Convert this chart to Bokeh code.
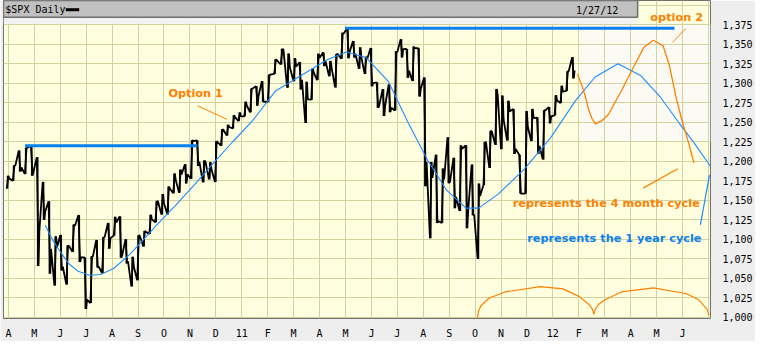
import pandas as pd
from bokeh.plotting import figure
from bokeh.models import Range1d, FixedTicker, NumeralTickFormatter, BoxAnnotation, Label
from bokeh.embed import file_html
from bokeh.resources import INLINE

# ---------------- data ----------------
month_labels = ["A", "M", "J", "J", "A", "S", "O", "N", "D", "11", "F", "M", "A", "M",
                "J", "J", "A", "S", "O", "N", "D", "12", "F", "M", "A", "M", "J"]
price_ticks = [1000, 1025, 1050, 1075, 1100, 1125, 1150, 1175, 1200, 1225, 1250,
               1275, 1300, 1325, 1350, 1375]

week_end = ["2010-04-02", "2010-04-09", "2010-04-16", "2010-04-23", "2010-04-30",
            "2010-05-07", "2010-05-14", "2010-05-21", "2010-05-28", "2010-06-04",
            "2010-06-11", "2010-06-18", "2010-06-25", "2010-07-02", "2010-07-09",
            "2010-07-16", "2010-07-23", "2010-07-30", "2010-08-06", "2010-08-13",
            "2010-08-20", "2010-08-27", "2010-09-03", "2010-09-10", "2010-09-17",
            "2010-09-24", "2010-10-01", "2010-10-08", "2010-10-15", "2010-10-22",
            "2010-10-29", "2010-11-05", "2010-11-12", "2010-11-19", "2010-11-26",
            "2010-12-03", "2010-12-10", "2010-12-17", "2010-12-24", "2010-12-31",
            "2011-01-07", "2011-01-14", "2011-01-21", "2011-01-28", "2011-02-04",
            "2011-02-11", "2011-02-18", "2011-02-25", "2011-03-04", "2011-03-11",
            "2011-03-18", "2011-03-25", "2011-04-01", "2011-04-08", "2011-04-15",
            "2011-04-22", "2011-04-29", "2011-05-06", "2011-05-13", "2011-05-20",
            "2011-05-27", "2011-06-03", "2011-06-10", "2011-06-17", "2011-06-24",
            "2011-07-01", "2011-07-08", "2011-07-15", "2011-07-22", "2011-07-29",
            "2011-08-05", "2011-08-12", "2011-08-19", "2011-08-26", "2011-09-02",
            "2011-09-09", "2011-09-16", "2011-09-23", "2011-09-30", "2011-10-07",
            "2011-10-14", "2011-10-21", "2011-10-28", "2011-11-04", "2011-11-11",
            "2011-11-18", "2011-11-25", "2011-12-02", "2011-12-09", "2011-12-16",
            "2011-12-23", "2011-12-30", "2012-01-06", "2012-01-13", "2012-01-20",
            "2012-01-27"]
week_high = [1181.4, 1194.7, 1213.9, 1217.3, 1219.8, 1205.1, 1173.6, 1148.7, 1104.0, 1105.7,
             1092.0, 1119.0, 1131.2, 1076.8, 1078.2, 1099.1, 1103.0, 1121.0, 1128.8, 1129.2,
             1100.1, 1077.6, 1105.1, 1110.8, 1131.5, 1148.9, 1158.0, 1167.7, 1184.4, 1189.4,
             1196.1, 1227.1, 1226.8, 1200.9, 1198.9, 1225.6, 1241.0, 1246.7, 1259.0, 1262.6,
             1276.2, 1293.2, 1296.1, 1302.7, 1311.0, 1330.8, 1344.1, 1338.0, 1332.3, 1327.0,
             1302.0, 1319.0, 1337.9, 1339.5, 1328.6, 1337.5, 1364.6, 1370.6, 1354.0, 1346.0,
             1334.0, 1345.2, 1301.0, 1292.5, 1298.6, 1341.0, 1356.5, 1343.9, 1347.0, 1344.8,
             1307.4, 1199.0, 1208.5, 1190.7, 1230.7, 1204.4, 1220.4, 1220.4, 1195.9, 1171.4,
             1224.6, 1239.0, 1292.7, 1284.4, 1277.6, 1267.0, 1208.5, 1264.3, 1267.1, 1256.0,
             1265.4, 1269.4, 1284.6, 1296.8, 1315.5, 1333.5]
week_low = [1165.0, 1175.0, 1186.8, 1183.7, 1181.6, 1065.8, 1125.0, 1055.9, 1040.8, 1060.0,
            1042.2, 1084.0, 1071.0, 1010.9, 1018.4, 1064.0, 1056.9, 1088.0, 1105.0, 1076.6,
            1069.2, 1039.7, 1047.5, 1091.0, 1107.0, 1122.0, 1131.9, 1131.9, 1159.0, 1159.7,
            1171.7, 1177.7, 1194.1, 1173.0, 1176.9, 1173.6, 1220.0, 1232.9, 1242.0, 1251.5,
            1257.6, 1262.7, 1271.3, 1276.3, 1276.0, 1312.0, 1324.0, 1294.3, 1302.6, 1292.0,
            1249.1, 1279.0, 1304.0, 1322.0, 1309.0, 1294.7, 1331.5, 1332.0, 1333.0, 1318.5,
            1311.8, 1296.0, 1268.6, 1258.1, 1262.9, 1265.0, 1333.0, 1307.0, 1303.0, 1282.9,
            1168.1, 1101.5, 1121.1, 1121.0, 1172.0, 1140.0, 1136.2, 1114.2, 1131.0, 1074.8,
            1169.6, 1191.5, 1221.0, 1215.4, 1226.6, 1209.4, 1158.7, 1158.7, 1225.9, 1209.5,
            1202.4, 1248.6, 1258.9, 1274.6, 1290.2, 1306.1]
week_close = [1178.1, 1194.4, 1192.1, 1217.3, 1186.7, 1110.9, 1135.7, 1087.7, 1089.4, 1064.9,
              1091.6, 1117.5, 1076.8, 1022.6, 1078.0, 1064.9, 1102.7, 1101.6, 1121.6, 1079.3,
              1071.7, 1064.6, 1104.5, 1109.6, 1125.6, 1148.7, 1146.2, 1165.2, 1176.2, 1183.1,
              1183.3, 1225.9, 1199.2, 1199.7, 1189.4, 1224.7, 1240.4, 1243.9, 1256.8, 1257.6,
              1271.5, 1293.2, 1283.4, 1276.3, 1310.9, 1329.2, 1343.0, 1319.9, 1321.2, 1304.3,
              1279.2, 1313.8, 1332.4, 1328.2, 1319.7, 1337.4, 1363.6, 1340.2, 1337.8, 1333.3,
              1331.1, 1300.2, 1271.0, 1271.5, 1268.5, 1339.7, 1343.8, 1316.1, 1345.0, 1292.3,
              1199.4, 1178.8, 1123.5, 1176.8, 1174.0, 1154.2, 1216.0, 1136.4, 1131.4, 1155.5,
              1224.6, 1238.3, 1285.1, 1253.2, 1263.9, 1215.7, 1158.7, 1244.3, 1255.2, 1219.7,
              1265.3, 1257.6, 1277.8, 1289.1, 1315.4, 1316.3]

# 1-year cycle curve (blue), x in months since Apr 2010
year_cycle_m = [1.42, 1.69, 1.94, 2.32, 2.69, 3.13, 3.56, 4.07, 4.69, 5.19, 5.68, 6.43, 7.18,
                8.05, 8.68, 9.42, 10.30, 11.29, 12.29, 13.04, 13.79, 14.66, 15.41, 16.16,
                16.90, 17.65, 18.14, 18.89, 19.90, 20.91, 21.88, 22.63, 23.51, 24.38, 25.13,
                25.87, 26.44, 27.07]
year_cycle_v = [1118, 1100, 1087, 1069, 1059, 1054, 1055, 1063, 1081, 1099, 1117, 1143, 1170,
                1203, 1226, 1252, 1290, 1310, 1330, 1340, 1333, 1302, 1250, 1202,
                1163, 1140, 1140, 1158, 1190, 1230, 1278, 1308, 1325, 1310, 1283,
                1249, 1224, 1194]

# option 2 projection (orange)
option2_m = [21.95, 22.14, 22.26, 22.39, 22.52, 22.64, 22.89, 23.14, 23.64, 24.13, 24.51,
             24.88, 25.25, 25.50, 25.75, 26.00, 26.25, 26.44]
option2_v = [1312, 1295, 1282, 1265, 1254, 1248, 1252, 1260, 1290, 1322, 1346,
             1355, 1348, 1322, 1282, 1250, 1222, 1198]

# 4-month cycle arcs at the bottom
arc1_m = [18.09, 18.13, 18.22, 18.53, 19.15, 20.52, 21.39, 22.02, 22.39, 22.52, 22.58]
arc1_v = [998.6, 1008.0, 1014.6, 1024.6, 1032.6, 1039.4, 1036.6, 1026.6, 1016.6, 1011.0, 1004.0]
arc2_m = [22.58, 22.64, 22.76, 23.01, 23.64, 24.88, 26.13, 26.63, 26.94, 27.03]
arc2_v = [1004.0, 1010.6, 1016.5, 1022.6, 1032.6, 1037.8, 1030.6, 1022.6, 1010.6, 1002.6]

# horizontal resistance levels
level1_m, level1_v = [0.64, 7.29], [1219.8, 1219.8]
level2_m, level2_v = [12.98, 25.69], [1370.6, 1370.6]

# ---------------- layout / style ----------------
ORANGE = "#FF8000"
BLUE = "#0A7FF0"
BLUE_THIN = "#1E8CFF"
X0, X1 = -0.19, 27.08
Y0, Y1 = 998.6, 1406.0


def mpos(ts):
    return (ts.year - 2010) * 12 + (ts.month - 4) + (ts.day - 1) / ts.days_in_month


px, py = [], []
seg_x, seg_lo, seg_hi = [], [], []
for d, h, l, c in zip(week_end, week_high, week_low, week_close):
    fri = pd.Timestamp(d)
    tue = fri - pd.Timedelta(days=3)
    wed = fri - pd.Timedelta(days=2)
    thu = fri - pd.Timedelta(days=1)
    first, second = (l, h) if c >= (h + l) / 2 else (h, l)
    px += [mpos(tue), mpos(thu), mpos(fri)]
    py += [first, second, c]
    seg_x.append(mpos(wed))
    seg_lo.append(l)
    seg_hi.append(h)

p = figure(width=755, height=341, x_range=Range1d(X0, X1), y_range=Range1d(Y0, Y1),
           y_axis_location="right", output_backend="svg", toolbar_location=None,
           min_border_left=3, min_border_right=0, min_border_top=0, min_border_bottom=0,
           background_fill_color="#FFFFE0", border_fill_color="#EEEEEE")
p.outline_line_color = "#707070"
p.outline_line_width = 1

p.xgrid.ticker = FixedTicker(ticks=list(range(0, 28)))
p.ygrid.ticker = FixedTicker(ticks=list(range(1000, 1401, 25)))
for g in (p.xgrid, p.ygrid):
    g.grid_line_color = "#D2D2A0"
    g.grid_line_width = 1

p.xaxis.ticker = FixedTicker(ticks=list(range(len(month_labels))))
p.xaxis.major_label_overrides = {i: s for i, s in enumerate(month_labels)}
p.yaxis.ticker = FixedTicker(ticks=price_ticks)
p.yaxis.formatter = NumeralTickFormatter(format="0,0")
for ax in (p.xaxis, p.yaxis):
    ax.axis_line_color = None
    ax.major_tick_line_color = None
    ax.minor_tick_line_color = None
    ax.major_label_text_font = "DejaVu Sans Mono"
    ax.major_label_text_font_size = "10px"
    ax.major_label_text_color = "#000000"
p.xaxis.major_label_standoff = 3
p.yaxis.major_label_standoff = 6

# lighter "future" area
p.add_layout(BoxAnnotation(left=22.03, right=X1, bottom=1225, top=1376,
                           fill_color="#FBFBF3", fill_alpha=1, line_alpha=0, level="image"))

# price
p.segment(seg_x, seg_lo, seg_x, seg_hi, line_color="black", line_width=1.6)
p.line(px, py, line_color="black", line_width=1.8)

# cycles
p.line(year_cycle_m, year_cycle_v, line_color=BLUE_THIN, line_width=1.1)
p.line(option2_m, option2_v, line_color=ORANGE, line_width=1.3)
p.line(arc1_m, arc1_v, line_color=ORANGE, line_width=1.2)
p.line(arc2_m, arc2_v, line_color=ORANGE, line_width=1.2)

# levels
p.line(level1_m, level1_v, line_color=BLUE, line_width=3)
p.line(level2_m, level2_v, line_color=BLUE, line_width=3)

# pointer lines
p.line([7.29, 8.43], [1271.2, 1253.7], line_color=ORANGE, line_width=1)
p.line([25.61, 26.13], [1352.3, 1370.3], line_color=ORANGE, line_width=1)
p.line([24.48, 25.82], [1165.6, 1190.5], line_color=ORANGE, line_width=1.2)
p.line([26.69, 27.04], [1118.5, 1182.4], line_color=BLUE_THIN, line_width=1.2)

# header bar
p.add_layout(BoxAnnotation(left=X0, right=24.27, bottom=1376.3, top=1384.5,
                           fill_color="#F2F2F2", fill_alpha=1, line_alpha=0))
p.add_layout(BoxAnnotation(left=X0, right=24.27, bottom=1384.5, top=Y1,
                           fill_color="#C0C0C0", fill_alpha=1,
                           line_color="#6E6E6E", line_alpha=1, line_width=1.5))
p.add_layout(Label(x=-0.12, y=1394.5, text="$SPX Daily", text_font="DejaVu Sans Mono",
                   text_font_size="10px", text_color="black", text_baseline="middle"))
p.line([2.21, 2.73], [1394.2, 1394.2], line_color="black", line_width=3, level="overlay")
p.add_layout(Label(x=23.52, y=1393.5, text="1/27/12", text_font="DejaVu Sans Mono",
                   text_font_size="10px", text_color="black", text_baseline="middle",
                   text_align="right"))

# annotation texts
def note(x, y, s, color):
    p.add_layout(Label(x=x, y=y, text=s, text_font="DejaVu Sans", text_font_style="bold",
                       text_font_size="11.3px", text_color=color, text_baseline="middle"))

note(6.17, 1286.4, "Option 1", ORANGE)
note(24.76, 1384.7, "option 2", ORANGE)
note(19.45, 1146.0, "represents the 4 month cycle", ORANGE)
note(20.01, 1101.7, "represents the 1 year cycle", BLUE)

open("out.html", "w").write(file_html(p, INLINE))
